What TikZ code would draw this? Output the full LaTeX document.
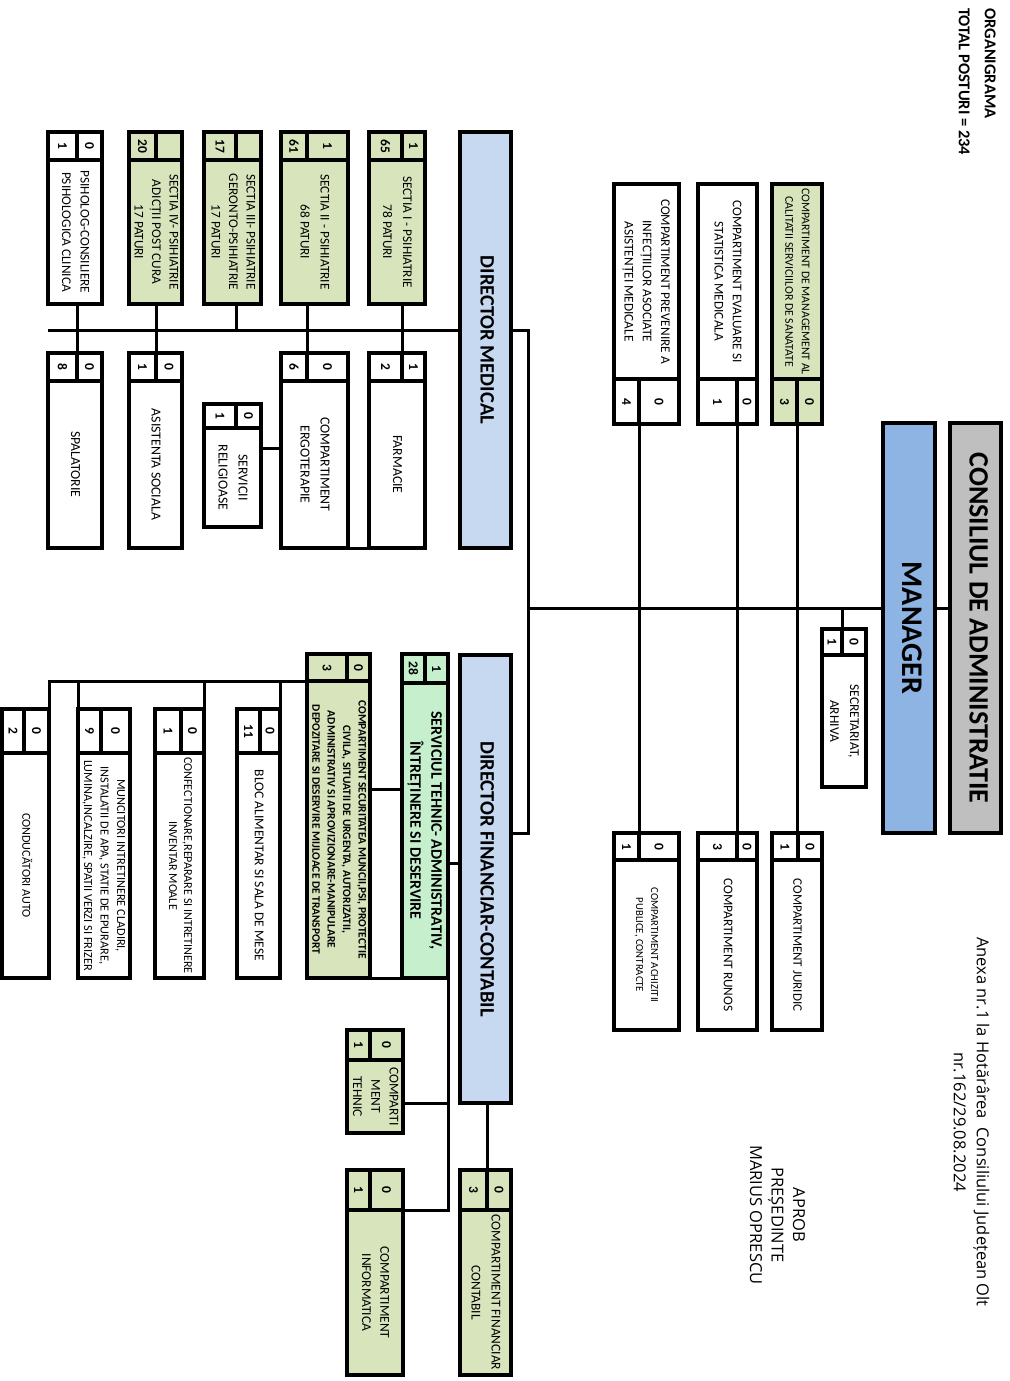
\documentclass[tikz,border=0pt]{standalone}
\usepackage{fontspec}
\usepackage{graphicx}
\setmainfont{Carlito}
\newfontfamily\osans{Open Sans}
\definecolor{cgray}{HTML}{BFBFBF}
\definecolor{cmgr}{HTML}{8DB4E2}
\definecolor{cdir}{HTML}{C6D9F1}
\definecolor{cgreen}{HTML}{D8E4BC}
\definecolor{cmint}{HTML}{C6EFCE}
\newcommand\fs[2]{\fontsize{#1}{#2}\selectfont}
\newcommand\rt[2]{\rotatebox{-90}{#1\begin{tabular}{@{}c@{}}#2\end{tabular}}}
\newcommand\nm[2][0]{\rotatebox{-90}{\fs{13.5}{15}\bfseries #2}\hspace{#1pt}}
\newcommand\ub[7]{%
  \pgfmathsetmacro\ubw{#4-#2}%
  \pgfmathsetmacro\ubh{#5-#3}%
  \pgfmathsetmacro\ubx{(#2+#4)/2}%
  \pgfmathsetmacro\uby{(#3+#5)/2}%
  \node[ubox,#6,minimum width=\ubw pt,minimum height=\ubh pt] (#1) at (\ubx,\uby) {#7};%
}
\begin{document}
\begin{tikzpicture}[x=1pt,y=-1pt,
  ubox/.style={draw,line width=3.8pt,inner sep=0pt,outer sep=0pt,fill=white},
  conn/.style={line width=3pt},
  gr/.style={fill=cgreen}, mn/.style={fill=cmint}]
\path[use as bounding box, fill=white] (0,0) rectangle (1009,1381);

% top level
\ub{cons}{950}{423}{1001}{833}{fill=cgray}{\rt{\fs{28}{30}\bfseries}{CONSILIUL DE ADMINISTRATIE}}
\ub{mgr}{883}{423}{935}{833}{fill=cmgr}{\rt{\fs{30}{32}\bfseries}{MANAGER}}
\ub{dmed}{460}{132}{511}{548}{fill=cdir}{\rt{\fs{20.5}{24}\bfseries}{DIRECTOR MEDICAL}}
\ub{dfin}{460}{655}{511}{1103}{fill=cdir}{\rt{\fs{20.5}{24}\bfseries}{DIRECTOR FINANCIAR-CONTABIL}}

% manager staff, upper
\ub{mgmtB}{772}{184}{822}{379}{gr}{\rt{\fs{11.8}{16.5}}{COMPARTIMENT DE MANAGEMENT AL\\CALITATII SERVICIILOR DE SANATATE}}
\ub{mgmtR}{797}{379}{822}{424}{gr}{\nm{0}}
\ub{mgmtL}{772}{379}{797}{424}{gr}{\nm{3}}
\ub{evalB}{698}{184}{757}{379}{}{\rt{\fs{13.3}{18.3}}{COMPARTIMENT EVALUARE SI\\STATISTICA MEDICALA}}
\ub{evalR}{737}{379}{757}{424}{}{\nm{0}}
\ub{evalL}{698}{379}{737}{424}{}{\nm[14]{1}}
\ub{prevB}{614}{184}{679}{379}{}{\rt{\fs{13.3}{18.2}}{COMPARTIMENT PREVENIRE A\\INFECȚIILOR ASOCIATE\\ASISTENȚEI MEDICALE}}
\ub{prevR}{639}{379}{679}{424}{}{\nm[14]{0}}
\ub{prevL}{614}{379}{639}{424}{}{\nm{4}}

% manager staff, lower
\ub{jurR}{798}{833}{822}{860}{}{\nm{0}}
\ub{jurL}{772}{833}{798}{860}{}{\nm{1}}
\ub{jurB}{772}{860}{822}{1030}{}{\rt{\fs{13}{18}}{COMPARTIMENT JURIDIC}}
\ub{runosR}{737}{833}{757}{860}{}{\nm{0}}
\ub{runosL}{698}{833}{737}{860}{}{\nm{3}}
\ub{runosB}{698}{860}{757}{1030}{}{\rt{\fs{13.3}{18}}{COMPARTIMENT RUNOS}}
\ub{achizR}{639}{833}{679}{860}{}{\nm[18]{0}}
\ub{achizL}{614}{833}{639}{860}{}{\nm{1}}
\ub{achizB}{614}{860}{679}{1030}{}{\rt{\fs{10.7}{15}}{COMPARTIMENT ACHIZITII\\PUBLICE, CONTRACTE}}

% secretariat
\ub{secrR}{842}{629}{866}{655}{}{\nm{0}}
\ub{secrL}{822}{629}{842}{655}{}{\nm{1}}
\ub{secrB}{822}{655}{866}{787}{}{\rt{\fs{13.5}{20}}{SECRETARIAT,\\ARHIVA}}

% medical, upper row
\ub{s1R}{402}{132}{425}{160}{gr}{\nm{1}}
\ub{s1L}{369}{132}{402}{160}{gr}{\nm[6]{65}}
\ub{s1B}{369}{160}{425}{304}{gr}{\rt{\fs{13.3}{20}}{SECTIA I - PSIHIATRIE\\78 PATURI}}
\ub{s2R}{307}{132}{348}{160}{gr}{\nm[20]{1}}
\ub{s2L}{281}{132}{307}{160}{gr}{\nm{61}}
\ub{s2B}{281}{160}{348}{304}{gr}{\rt{\fs{13.3}{20}}{SECTIA II - PSIHIATRIE\\68 PATURI}}
\ub{s3R}{236}{132}{261}{160}{gr}{}
\ub{s3L}{204}{132}{236}{160}{gr}{\nm[10]{17}}
\ub{s3B}{204}{160}{261}{304}{gr}{\rt{\fs{13.3}{17.5}}{SECTIA III- PSIHIATRIE\\GERONTO-PSIHIATRIE\\17 PATURI}}
\ub{s4R}{156}{132}{182}{160}{gr}{}
\ub{s4L}{129}{132}{156}{160}{gr}{\nm[8]{20}}
\ub{s4B}{129}{160}{182}{304}{gr}{\rt{\fs{13.3}{17.5}}{SECTIA IV- PSIHIATRIE\\ADICȚII POST CURA\\17 PATURI}}
\ub{psihR}{77}{132}{102}{160}{}{\nm{0}}
\ub{psihL}{48}{132}{77}{160}{}{\nm{1}}
\ub{psihB}{48}{160}{102}{304}{}{\rt{\fs{13.3}{18.5}}{PSIHOLOG-CONSILIERE\\PSIHOLOGICA CLINICA}}

% medical, lower row
\ub{farmR}{402}{353}{425}{381}{}{\nm{1}}
\ub{farmL}{369}{353}{402}{381}{}{\nm{2}}
\ub{farmB}{369}{381}{425}{548}{}{\rt{\fs{13.8}{19}}{FARMACIE}}
\ub{ergoR}{307}{353}{348}{381}{}{\nm[20]{0}}
\ub{ergoL}{281}{353}{307}{381}{}{\nm{6}}
\ub{ergoB}{281}{381}{348}{548}{}{\rt{\fs{13.8}{20}}{COMPARTIMENT\\ERGOTERAPIE}}
\ub{religR}{236}{404}{261}{428}{}{\nm{0}}
\ub{religL}{204}{404}{236}{428}{}{\nm{1}}
\ub{religB}{204}{428}{261}{527}{}{\rt{\fs{13.8}{20}}{SERVICII\\RELIGIOASE}}
\ub{asisR}{156}{353}{182}{381}{}{\nm{0}}
\ub{asisL}{129}{353}{156}{381}{}{\nm{1}}
\ub{asisB}{129}{381}{182}{548}{}{\rt{\fs{13.8}{19}}{ASISTENTA SOCIALA}}
\ub{spalR}{77}{353}{102}{381}{}{\nm{0}}
\ub{spalL}{48}{353}{77}{381}{}{\nm{8}}
\ub{spalB}{48}{381}{102}{548}{}{\rt{\fs{13.8}{19}}{SPALATORIE}}

% financial side
\ub{servR}{425}{654}{448}{683}{mn}{\nm{1}}
\ub{servL}{402}{654}{425}{683}{mn}{\nm{28}}
\ub{servB}{402}{683}{448}{978}{mn}{\rt{\fs{16}{21}\bfseries}{SERVICIUL TEHNIC- ADMINISTRATIV,\\ÎNTREȚINERE SI DESERVIRE}}
\ub{secuR}{347}{654}{370}{681}{gr}{\nm{0}}
\ub{secuL}{307}{654}{347}{681}{gr}{\nm[8]{3}}
\ub{secuB}{307}{681}{370}{978}{gr}{\rt{\fs{11.4}{15.4}\bfseries}{COMPARTIMENT SECURITATEA MUNCII,PSI, PROTECTIE\\CIVILA, SITUATII DE URGENTA, AUTORIZATII,\\ADMINISTRATIV SI APROVIZIONARE-MANIPULARE\\DEPOZITARE SI DESERVIRE MIJLOACE DE TRANSPORT}}
\ub{blocR}{260}{709}{280}{753}{}{\nm{0}}
\ub{blocL}{237}{709}{260}{753}{}{\nm{11}}
\ub{blocB}{237}{753}{280}{978}{}{\rt{\fs{13.5}{18}}{BLOC ALIMENTAR SI SALA DE MESE}}
\ub{confR}{181}{709}{204}{753}{}{\nm{0}}
\ub{confL}{155}{709}{181}{753}{}{\nm{1}}
\ub{confB}{155}{753}{204}{978}{}{\rt{\fs{12.1}{15}}{CONFECTIONARE,REPARARE SI INTRETINERE\\INVENTAR MOALE}}
\ub{muncR}{101}{709}{130}{753}{}{\nm{0}}
\ub{muncL}{78}{709}{101}{753}{}{\nm{9}}
\ub{muncB}{78}{753}{130}{978}{}{\rt{\fs{12.3}{16.5}}{MUNCITORI INTRETINERE CLADIRI,\\INSTALATII DE APA, STATIE DE EPURARE,\\LUMINA,INCALZIRE, SPATII VERZI SI FRIZER}}
\ub{condR}{24}{709}{49}{753}{}{\nm{0}}
\ub{condL}{2}{709}{24}{753}{}{\nm{2}}
\ub{condB}{2}{753}{49}{978}{}{\rt{\fs{12.2}{16}}{CONDUCĂTORI AUTO}}
\ub{tehR}{370}{1030}{403}{1060}{gr}{\nm{0}}
\ub{tehL}{347}{1030}{370}{1060}{gr}{\nm{1}}
\ub{tehB}{347}{1060}{403}{1133}{gr}{\rt{\fs{13.5}{18.3}}{COMPARTI\\MENT\\TEHNIC}}
\ub{infoR}{370}{1170}{403}{1210}{gr}{\nm{0}}
\ub{infoL}{347}{1170}{370}{1210}{gr}{\nm{1}}
\ub{infoB}{347}{1210}{403}{1375}{gr}{\rt{\fs{13.5}{18.3}}{COMPARTIMENT\\INFORMATICA}}
\ub{contR}{487}{1170}{511}{1210}{gr}{\nm{0}}
\ub{contL}{460}{1170}{487}{1210}{gr}{\nm{3}}
\ub{contB}{460}{1210}{511}{1375}{gr}{\rt{\fs{13.5}{20}}{COMPARTIMENT FINANCIAR\\CONTABIL}}

% free texts
\node[inner sep=0pt,anchor=north] (title) at (977,8) {\rotatebox{-90}{\fs{16.5}{26}\bfseries\begin{tabular}{@{}l@{}}ORGANIGRAMA\\TOTAL POSTURI = 234\end{tabular}}};
\node[inner sep=0pt] (anexa) at (970,1122) {\rotatebox{-90}{\osans\fs{16.5}{23}\begin{tabular}{@{}c@{}}Anexa nr.1 la Hotărârea~ Consiliului Județean Olt\\nr.162/29.08.2024\end{tabular}}};
\node[inner sep=0pt] (aprob) at (776,1215) {\rotatebox{-90}{\osans\fs{16.5}{21.5}\begin{tabular}{@{}c@{}}APROB\\PREȘEDINTE\\MARIUS OPRESCU\end{tabular}}};

% junction coordinates
\coordinate (ym) at (700,608);
\coordinate (sx) at (528,608);
\coordinate (ydm) at (520,330);
\coordinate (ydf) at (520,833);
\coordinate (yb) at (300,330);
\coordinate (yr) at (270,448);
\coordinate (ys) at (455,863);
\coordinate (yt) at (420,1103);
\coordinate (yl) at (390,789);

% connectors: top
\draw[conn] (mgr.east |- ym) -- (cons.west |- ym);
\draw[conn] (sx) -- (mgr.west |- sx);
\draw[conn] (dmed.east |- ydm) -| (sx) |- (dfin.east |- ydf);
\draw[conn] (mgmtR.south west) -- (mgmtR.south west |- jurR.north);
\draw[conn] (evalR.south west) -- (evalR.south west |- runosR.north);
\draw[conn] (prevR.south west) -- (prevR.south west |- achizR.north);
\draw[conn] (secrR.north west |- ym) -- (secrR.north west);

% connectors: medical
\draw[conn] (psihB.south west |- yb) -- (dmed.west |- yb);
\draw[conn] (s1R.west |- s1B.south) -- (s1R.west |- farmR.north);
\draw[conn] (s2R.west |- s2B.south) -- (s2R.west |- ergoR.north);
\draw[conn] (s3R.west |- s3B.south) -- (s3R.west |- yb);
\draw[conn] (s4R.west |- s4B.south) -- (s4R.west |- asisR.north);
\draw[conn] (psihR.west |- psihB.south) -- (psihR.west |- spalR.north);
\draw[conn] (ergoB.west |- yr) -- (religB.east |- yr);
\draw[conn] (ergoB.south east) -- (farmB.south west);

% connectors: financial
\draw[conn] (dfin.west |- ys) -- (servB.east |- ys);
\draw[conn] (servB.south east) |- (infoB.north east);
\draw[conn] (tehB.east |- yt) -- (servB.east |- yt);
\draw[conn] (secuB.east |- yl) -- (servB.west |- yl);
\draw[conn] (secuB.south east) -- (servB.south west);
\draw[conn] (secuL.south west) -| (condR.north east);
\draw[conn] (blocR.north east |- secuL.south) -- (blocR.north east);
\draw[conn] (confR.north east |- secuL.south) -- (confR.north east);
\draw[conn] (muncL.north west |- secuL.south) -- (muncL.north west);
\draw[conn] (contR.north west |- dfin.south) -- (contR.north west);
\end{tikzpicture}
\end{document}
